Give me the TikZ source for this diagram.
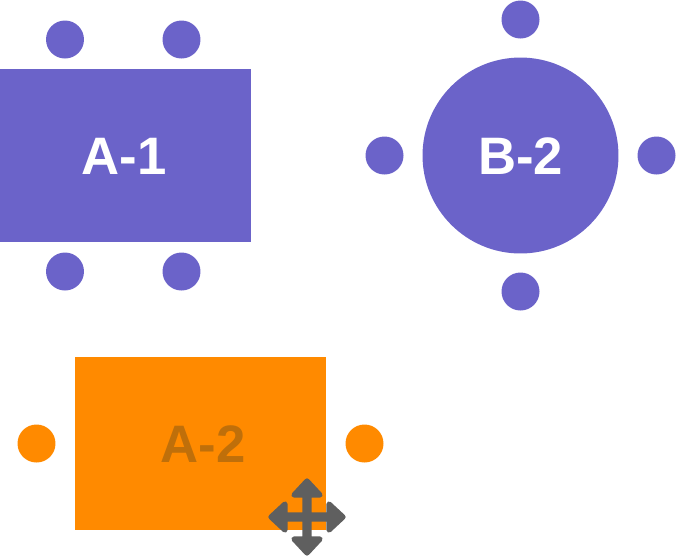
\documentclass[tikz,border=0pt]{standalone}
\usepackage{fontspec}
\usetikzlibrary{calc}
\setmainfont{Liberation Sans}
\definecolor{tablepurple}{HTML}{6B63C9}
\definecolor{tableorange}{HTML}{FF8A00}
\definecolor{labelorange}{HTML}{BF6F0A}
\definecolor{movegray}{HTML}{5F5F5F}
\tikzset{
	seat/.style={circle,inner sep=0pt,minimum size=0.76cm},
	tablelabel/.style={font=\bfseries\fontsize{30}{32}\selectfont,inner sep=0pt},
}
\begin{document}
\begin{tikzpicture}[x=0.02cm,y=-0.02cm,line join=round,line cap=round]
	\useasboundingbox (0,0) rectangle (676,556);
	\clip (0,0) rectangle (676,556);
	% table A-1
	\node[fill=tablepurple,inner sep=0pt,minimum width=5.07cm,minimum height=3.46cm] (tableA) at (124.7,155.5) {};
	\node[tablelabel,text=white] (labelA) at (124,156.5) {A-1};
	\node[seat,fill=tablepurple] (seatA1) at (65,39.5) {};
	\node[seat,fill=tablepurple] (seatA2) at (181.5,39.5) {};
	\node[seat,fill=tablepurple] (seatA3) at (65,271.5) {};
	\node[seat,fill=tablepurple] (seatA4) at (181.5,271.5) {};
	% table B-2
	\node[circle,fill=tablepurple,inner sep=0pt,minimum size=3.92cm] (tableB) at (520.5,155.5) {};
	\node[tablelabel,text=white] (labelB) at (520.5,156.5) {B-2};
	\node[seat,fill=tablepurple] (seatB1) at (520.5,19.5) {};
	\node[seat,fill=tablepurple] (seatB2) at (520.5,291.5) {};
	\node[seat,fill=tablepurple] (seatB3) at (384.5,155.5) {};
	\node[seat,fill=tablepurple] (seatB4) at (656.5,155.5) {};
	% table A-2
	\node[fill=tableorange,inner sep=0pt,minimum width=5.02cm,minimum height=3.46cm] (tableC) at (200.6,443.3) {};
	\node[tablelabel,text=labelorange] (labelC) at (203,444.5) {A-2};
	\node[seat,fill=tableorange] (seatC1) at (36.5,443.5) {};
	\node[seat,fill=tableorange] (seatC2) at (364.5,443.5) {};
	% move handle
	\coordinate (M) at (307,517);
	\fill[movegray,draw=movegray,line width=3pt]
		($(M)+(0,-36)$) -- ($(M)+(13,-22)$) -- ($(M)+(2,-22)$) -- ($(M)+(2,-2)$)
		-- ($(M)+(22,-2)$) -- ($(M)+(22,-13)$) -- ($(M)+(36,0)$) -- ($(M)+(22,13)$)
		-- ($(M)+(22,2)$) -- ($(M)+(2,2)$) -- ($(M)+(2,22)$) -- ($(M)+(13,22)$)
		-- ($(M)+(0,36)$) -- ($(M)+(-13,22)$) -- ($(M)+(-2,22)$) -- ($(M)+(-2,2)$)
		-- ($(M)+(-22,2)$) -- ($(M)+(-22,13)$) -- ($(M)+(-36,0)$) -- ($(M)+(-22,-13)$)
		-- ($(M)+(-22,-2)$) -- ($(M)+(-2,-2)$) -- ($(M)+(-2,-22)$) -- ($(M)+(-13,-22)$) -- cycle;
\end{tikzpicture}
\end{document}
